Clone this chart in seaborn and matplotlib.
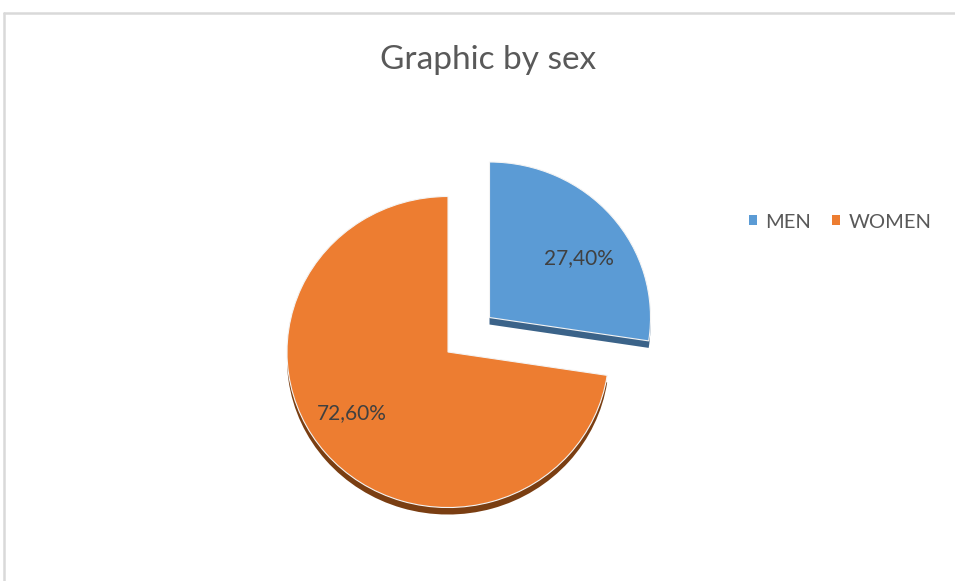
import matplotlib
matplotlib.use("Agg")
import matplotlib.pyplot as plt
import seaborn as sns
from matplotlib.lines import Line2D
from matplotlib.patches import Patch

categories = ["MEN", "WOMEN"]
values = [27.40, 72.60]
labels = ["27,40%", "72,60%"]
title = "Graphic by sex"

sns.set_theme(style="white")
plt.rcParams["font.family"] = ["Lato", "DejaVu Sans"]

top_colors = ["#5B9BD5", "#ED7D31"]
side_colors = ["#3B6389", "#7A3E12"]

W, H = 955, 581
SQ = 0.966
fig = plt.figure(figsize=(W / 100, H / 100), dpi=100)
ax = fig.add_axes([0, 0, 1, 1])

cx, cy_px, r = 448, 352, 161
cy = (H - cy_px) / SQ
depth = 7 / SQ
explode = [0.34 * r, 0.0]

# side (3D depth) layer
ax.pie(values, colors=side_colors, startangle=90, counterclock=False,
       explode=explode, radius=r, center=(cx, cy - depth),
       wedgeprops=dict(linewidth=0))
# top face
wedges, _ = ax.pie(values, colors=top_colors, startangle=90, counterclock=False,
                   explode=explode, radius=r, center=(cx, cy),
                   wedgeprops=dict(linewidth=0.8, edgecolor="#f4f4f4"))

ax.set_aspect("auto")
ax.set_xlim(0, W)
ax.set_ylim(0, H / SQ)
ax.axis("off")

# data labels
label_pos_px = [(579, 258), (352, 413)]
for lab, (px, py) in zip(labels, label_pos_px):
    ax.text(px, (H - py) / SQ, lab, ha="center", va="center",
            fontsize=15, color="#404040")

fig.text(488 / W, 1 - 60 / H, title, ha="center", va="center",
         fontsize=24, color="#595959")

handles = [Patch(facecolor=c, edgecolor="none") for c in top_colors]
fig.legend(handles, categories, loc="center left",
           bbox_to_anchor=(749 / W, 1 - 222 / H), ncol=2, frameon=False,
           fontsize=14.5, labelcolor="#595959", handlelength=0.4,
           handleheight=0.4, handletextpad=0.4, columnspacing=1.05,
           borderpad=0, borderaxespad=0)

# chart border
fig.add_artist(Line2D([4 / W, 1], [1 - 13 / H, 1 - 13 / H], color="#D9D9D9", lw=1.8))
fig.add_artist(Line2D([4 / W, 4 / W], [1 - 13 / H, 0], color="#D9D9D9", lw=1.8))

fig.savefig("out.png", dpi=100, facecolor="white")
